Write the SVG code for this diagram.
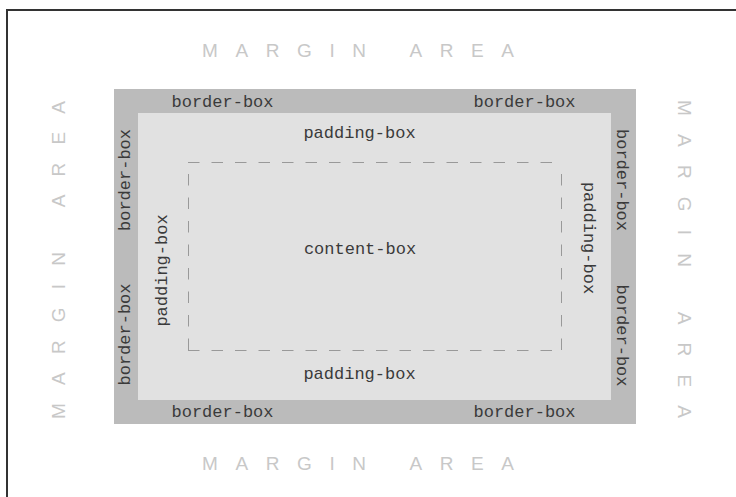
<svg xmlns="http://www.w3.org/2000/svg" width="736" height="497" viewBox="0 0 736 497">
<style>
.margin{font-family:"Liberation Sans",Arial,sans-serif;font-size:19px;fill:#c8c8c8;letter-spacing:17.6px;word-spacing:4px}
.vm{letter-spacing:18.2px}
.lbl{font-family:"Liberation Mono","Courier New",monospace;font-size:17px;fill:#3a3a3a;text-anchor:middle}
.dash{stroke:#999;stroke-width:1;fill:none;stroke-dasharray:11.5 12}
</style>
<rect x="0" y="0" width="736" height="497" fill="#fff"/>
<rect x="7" y="10" width="760" height="520" fill="#fff" stroke="#333" stroke-width="2"/>
<g id="margin-area">
<text class="margin" x="202" y="57">MARGIN AREA</text>
<text class="margin" x="202" y="470">MARGIN AREA</text>
<text class="margin vm" transform="translate(65,419) rotate(-90)">MARGIN AREA</text>
<text class="margin vm" transform="translate(678,100) rotate(90)">MARGIN AREA</text>
</g>
<g id="border-box">
<rect x="114" y="89" width="522" height="335" fill="#bbbbbb"/>
<text class="lbl" x="222.5" y="107">border-box</text>
<text class="lbl" x="524.5" y="107">border-box</text>
<text class="lbl" x="222.5" y="417">border-box</text>
<text class="lbl" x="524.5" y="417">border-box</text>
<text class="lbl" transform="translate(130,180) rotate(-90)">border-box</text>
<text class="lbl" transform="translate(130,334.5) rotate(-90)">border-box</text>
<text class="lbl" transform="translate(617,180) rotate(90)">border-box</text>
<text class="lbl" transform="translate(617,335.5) rotate(90)">border-box</text>
</g>
<g id="padding-box">
<rect x="138" y="113" width="473" height="287" fill="#e1e1e1"/>
<text class="lbl" x="359.5" y="138">padding-box</text>
<text class="lbl" x="359.5" y="379">padding-box</text>
<text class="lbl" transform="translate(167,270.5) rotate(-90)">padding-box</text>
<text class="lbl" transform="translate(584,238) rotate(90)">padding-box</text>
</g>
<g id="content-box">
<path class="dash" d="M188,162.5 H561 M188,350.5 H561 M188.5,350 V162 M561.5,350 V162"/>
<text class="lbl" x="360" y="254">content-box</text>
</g>
<g id="connectors"></g>
</svg>
